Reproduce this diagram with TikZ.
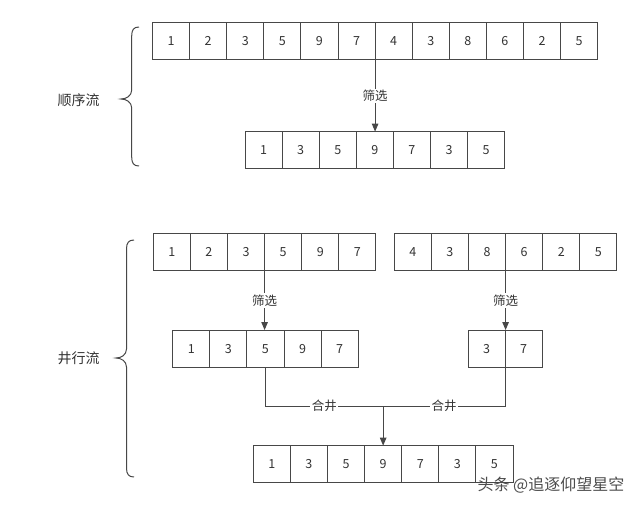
\documentclass[tikz,border=0pt]{standalone}
\usepackage{fontspec}
\setmainfont{Noto Sans CJK SC}
\usetikzlibrary{arrows.meta}
\definecolor{linegray}{HTML}{474747}
\definecolor{textgray}{HTML}{333333}
\newcommand{\cellrow}[4]{%
  \foreach \v [count=\i] in {#4} {
    \node[cellbox] (#1\i) at ({#2+37.1*(\i-0.5)}, #3) {\v};
    \xdef\lastidx{\i}
  }%
  \draw[conn] (#11.north west) rectangle (#1\lastidx.south east);
  \foreach \j in {2,...,\lastidx} {
    \draw[conn] (#1\j.north west) -- (#1\j.south west);
  }%
}
\begin{document}
\begin{tikzpicture}[x=1pt,y=-1pt,
  cellbox/.style={minimum width=37.1pt, minimum height=37.3pt,
    inner sep=0pt, outer sep=0pt, font=\fontsize{12.5}{12.5}\selectfont, text=textgray},
  conn/.style={draw=linegray, line width=1pt},
  flow/.style={conn, -{Triangle[length=8pt,width=6.5pt]}},
  elabel/.style={fill=white, inner sep=1.5pt, font=\fontsize{12.5}{12.5}\selectfont, text=textgray},
  sidelabel/.style={font=\fontsize{14}{14}\selectfont, text=textgray},
  bracepath/.style={draw=linegray, line width=1pt}]
\useasboundingbox (0,0) rectangle (640,506);
\fill[white] (0,0) rectangle (640,506);

% rows
\cellrow{a}{152.5}{41.3}{1,2,3,5,9,7,4,3,8,6,2,5}
\cellrow{b}{245}{150.3}{1,3,5,9,7,3,5}
\cellrow{c}{153.3}{252}{1,2,3,5,9,7}
\cellrow{d}{394.3}{252}{4,3,8,6,2,5}
\cellrow{e}{172.7}{348.7}{1,3,5,9,7}
\cellrow{f}{468}{348.7}{3,7}
\cellrow{g}{253.3}{464.3}{1,3,5,9,7,3,5}

% filter arrows
\draw[flow] (a6.south east) -- node[elabel]{筛选} (a6.south east |- b4.north);
\draw[flow] (c3.south east) -- node[elabel]{筛选} (c3.south east |- e3.north);
\draw[flow] (d3.south east) -- node[elabel]{筛选} (d3.south east |- f1.north);

% merge
\coordinate (m) at (g4.north |- 0,406);
\draw[conn] (e3.south) |- node[elabel,pos=0.75]{合井} (m);
\draw[conn] (f1.south east) |- node[elabel,pos=0.75]{合井} (m);
\draw[flow] (m) -- (g4.north);

% braces
\draw[bracepath] (139,27) .. controls (133.5,27) and (131.7,30) .. (131.7,36)
  -- (131.7,90) .. controls (131.7,96) and (126,99) .. (121,99)
  .. controls (126,99) and (131.7,102) .. (131.7,108)
  -- (131.7,157) .. controls (131.7,163) and (133.5,166) .. (139,166);
\draw[bracepath] (134,240) .. controls (128.5,240) and (126.5,243) .. (126.5,249)
  -- (126.5,349) .. controls (126.5,355) and (121,358) .. (116,358)
  .. controls (121,358) and (126.5,361) .. (126.5,367)
  -- (126.5,468) .. controls (126.5,474) and (128.5,477) .. (134,477);

% side labels
\node[sidelabel] (l1) at (78.5,100) {顺序流};
\node[sidelabel] (l2) at (78.5,358) {井行流};

% watermark
\node[font=\fontsize{16}{16}\selectfont, text=black!70, inner sep=0pt] (wm) at (551,485) {头条 @追逐仰望星空};
\end{tikzpicture}
\end{document}
